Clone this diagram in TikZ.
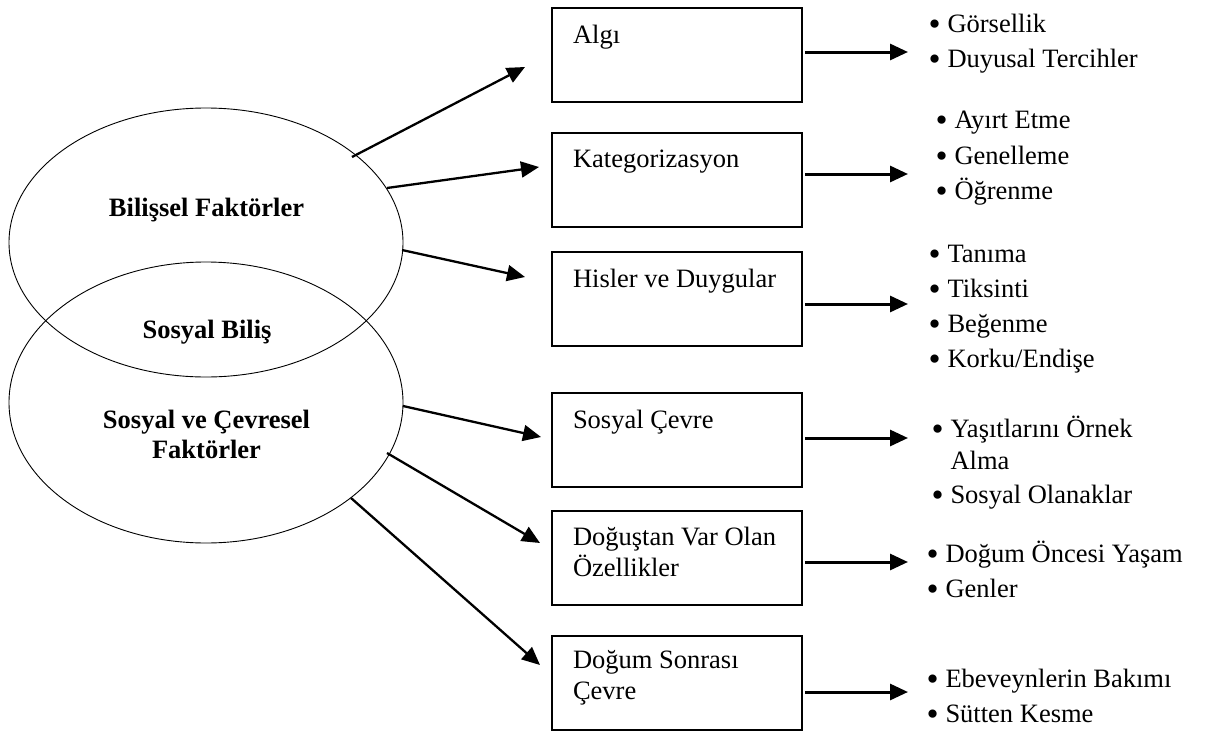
\documentclass[tikz,border=0pt]{standalone}
\usepackage{fontspec}
\setmainfont{Liberation Serif}
\usetikzlibrary{arrows.meta,shapes.geometric}

% bullet with a fixed-width slot so the item texts line up
\newcommand{\bul}{\makebox[19pt][l]{\raisebox{-3.5pt}{\scalebox{1.3}{•}}}}
\newcommand{\nobul}{\makebox[19pt][l]{}}

\tikzset{
  every node/.style={inner sep=0pt, outer sep=0pt},
  factor/.style={draw, line width=0.9pt, ellipse, minimum width=394pt},
  box/.style={draw, line width=1.3pt, rectangle, minimum width=250pt,
              minimum height=94pt, anchor=north west},
  boxtext/.style={anchor=base west, font=\fontsize{26.5}{31}\selectfont},
  listtext/.style={anchor=base west, font=\fontsize{26.5}{35}\selectfont},
  headtext/.style={anchor=base, font=\fontsize{26.5}{30}\selectfont\bfseries},
  link/.style={line width=2.3pt, -{Triangle[length=18pt,width=16pt]}},
  lead/.style={line width=3pt, -{Triangle[length=18pt,width=16pt]}},
}

\begin{document}
\begin{tikzpicture}[x=1pt,y=-1pt]
\useasboundingbox (0,0) rectangle (1211,731);

% two overlapping factor groups
\node[factor, minimum height=269pt] (cog) at (206,242.5) {};
\node[factor, minimum height=281pt] (soc) at (206,402.5) {};
\node[headtext] (cogt) at (206.5,216) {Bilişsel Faktörler};
\node[headtext] (midt) at (207,338) {Sosyal Biliş};
\node[headtext] (soct) at (206.5,428)
  {\begin{tabular}[t]{@{}c@{}}Sosyal ve Çevresel\\Faktörler\end{tabular}};

% factor boxes
\node[box] (algi) at (552,8)   {};
\node[box] (kat)  at (552,133) {};
\node[box] (his)  at (552,252) {};
\node[box] (sc)   at (552,393) {};
\node[box] (dog)  at (552,511) {};
\node[box] (ds)   at (552,636) {};

\node[boxtext] (algit) at ([shift={(21,35)}]algi.north west) {Algı};
\node[boxtext] (katt)  at ([shift={(21,34)}]kat.north west)  {Kategorizasyon};
\node[boxtext] (hist)  at ([shift={(21,35)}]his.north west)  {Hisler ve Duygular};
\node[boxtext] (sct)   at ([shift={(21,35)}]sc.north west)   {Sosyal Çevre};
\node[boxtext] (dogt)  at ([shift={(21,34)}]dog.north west)
  {\begin{tabular}[t]{@{}l@{}}Doğuştan Var Olan\\Özellikler\end{tabular}};
\node[boxtext] (dst)   at ([shift={(21,32)}]ds.north west)
  {\begin{tabular}[t]{@{}l@{}}Doğum Sonrası\\Çevre\end{tabular}};

% item lists
\node[listtext] (l1) at (928.5,32)
  {\begin{tabular}[t]{@{}l@{}}\bul Görsellik\\\bul Duyusal Tercihler\end{tabular}};
\node[listtext] (l2) at (935.5,128)
  {\begin{tabular}[t]{@{}l@{}}\bul Ayırt Etme\\[1pt]\bul Genelleme\\\bul Öğrenme\end{tabular}};
\node[listtext] (l3) at (928.5,262)
  {\begin{tabular}[t]{@{}l@{}}\bul Tanıma\\\bul Tiksinti\\\bul Beğenme\\\bul Korku/Endişe\end{tabular}};
\node[listtext] (l4) at (931.5,437)
  {\begin{tabular}[t]{@{}l@{}}\bul Yaşıtlarını Örnek\\[-3pt]\nobul Alma\\[-1pt]\bul Sosyal Olanaklar\end{tabular}};
\node[listtext] (l5) at (926.5,562)
  {\begin{tabular}[t]{@{}l@{}}\bul Doğum Öncesi Yaşam\\\bul Genler\end{tabular}};
\node[listtext] (l6) at (926.5,687)
  {\begin{tabular}[t]{@{}l@{}}\bul Ebeveynlerin Bakımı\\\bul Sütten Kesme\end{tabular}};

% connectors from the factor groups to the boxes
\coordinate (s1) at (352,157); \coordinate (t1) at (525,67);
\coordinate (s2) at (387,188); \coordinate (t2) at (539,167);
\coordinate (s3) at (402,250); \coordinate (t3) at (525,277);
\coordinate (s4) at (403,406); \coordinate (t4) at (541,437);
\coordinate (s5) at (387,453); \coordinate (t5) at (540,543);
\coordinate (s6) at (351,498); \coordinate (t6) at (540,665);
\draw[link] (s1) -- (t1);
\draw[link] (s2) -- (t2);
\draw[link] (s3) -- (t3);
\draw[link] (s4) -- (t4);
\draw[link] (s5) -- (t5);
\draw[link] (s6) -- (t6);

% arrows from the boxes to their item lists
\coordinate (e1) at (908,52);
\coordinate (e2) at (908,174);
\coordinate (e3) at (908,304);
\coordinate (e4) at (908,438);
\coordinate (e5) at (908,562);
\coordinate (e6) at (908,692);
\draw[lead] ([xshift=3pt]algi.east |- e1) -- (e1);
\draw[lead] ([xshift=3pt]kat.east |- e2) -- (e2);
\draw[lead] ([xshift=3pt]his.east |- e3) -- (e3);
\draw[lead] ([xshift=3pt]sc.east |- e4) -- (e4);
\draw[lead] ([xshift=3pt]dog.east |- e5) -- (e5);
\draw[lead] ([xshift=3pt]ds.east |- e6) -- (e6);
\end{tikzpicture}
\end{document}
